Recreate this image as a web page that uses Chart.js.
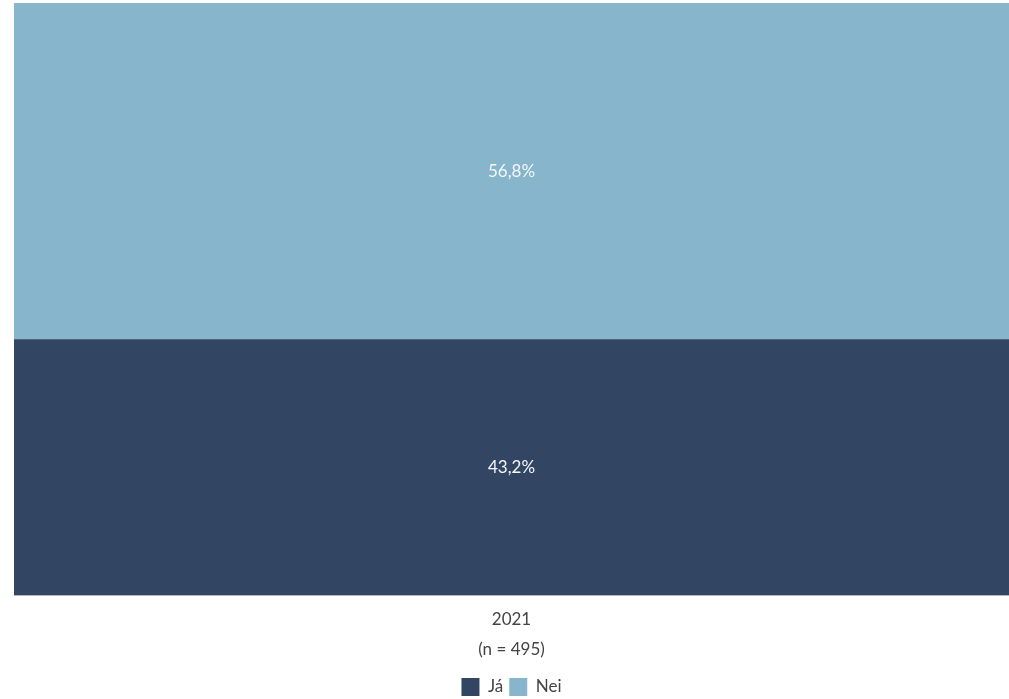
<!DOCTYPE html>
<html lang="no">
<head>
<meta charset="UTF-8">
<title>Já / Nei 2021</title>
<script src="https://cdn.jsdelivr.net/npm/chart.js"></script>
<style>
  html, body { margin: 0; padding: 0; background: #fff; }
  #wrap { width: 1009px; height: 699px; }
</style>
</head>
<body>
<div id="wrap"><canvas id="chart"></canvas></div>
<script>
// data
const categories = [['2021', '(n = 495)']];
const seriesNames = ['Já', 'Nei'];
const jaValues = [43.2];
const neiValues = [56.8];
const seriesColors = ['#324563', '#86b5cc'];

const fontFamily = 'Lato, "Noto Sans", sans-serif';

// write the percentage in the middle of each segment
const segmentLabels = {
  id: 'segmentLabels',
  afterDatasetsDraw(chart) {
    const ctx = chart.ctx;
    ctx.save();
    ctx.font = '17px ' + fontFamily;
    ctx.fillStyle = '#f4f7fa';
    ctx.textAlign = 'center';
    ctx.textBaseline = 'middle';
    chart.data.datasets.forEach((ds, i) => {
      chart.getDatasetMeta(i).data.forEach((bar, j) => {
        const p = bar.getProps(['x', 'y', 'base'], true);
        const txt = ds.data[j].toFixed(1).replace('.', ',') + '%';
        ctx.fillText(txt, p.x, (p.y + p.base) / 2);
      });
    });
    ctx.restore();
  }
};

new Chart(document.getElementById('chart'), {
  type: 'bar',
  data: {
    labels: categories,
    datasets: [
      { label: seriesNames[0], data: jaValues, backgroundColor: seriesColors[0] },
      { label: seriesNames[1], data: neiValues, backgroundColor: seriesColors[1] }
    ]
  },
  options: {
    responsive: true,
    maintainAspectRatio: false,
    animation: false,
    layout: { padding: { left: 14, top: 3, right: 0, bottom: -7 } },
    datasets: { bar: { barPercentage: 1, categoryPercentage: 1 } },
    scales: {
      x: {
        stacked: true,
        grid: { display: false },
        border: { display: false },
        ticks: { color: '#444', font: { family: fontFamily, size: 17, lineHeight: 1.75 }, padding: 1 },
        afterFit(scale) { scale.height += 7; }
      },
      y: {
        stacked: true,
        min: 0,
        max: 100,
        display: false
      }
    },
    plugins: {
      legend: {
        position: 'bottom',
        labels: {
          color: '#444',
          font: { family: fontFamily, size: 17 },
          boxWidth: 18,
          boxHeight: 18,
          padding: 6
        }
      },
      tooltip: { enabled: false }
    }
  },
  plugins: [segmentLabels]
});
</script>
</body>
</html>
